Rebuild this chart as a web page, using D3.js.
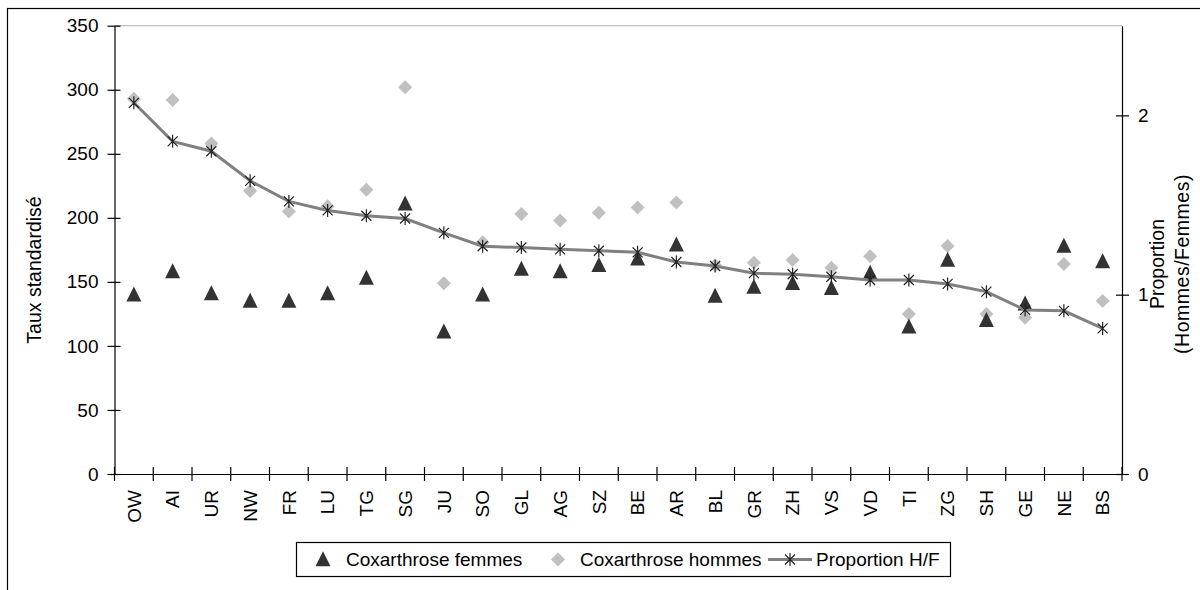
<!DOCTYPE html>
<html>
<head>
<meta charset="utf-8">
<script src="https://cdn.jsdelivr.net/npm/d3@7/dist/d3.min.js"></script>
<style>
  body { margin: 0; background: #fff; }
  svg { display: block; font-family: Arial, "Liberation Sans", sans-serif; }
</style>
</head>
<body>
<svg id="chart" width="1200" height="590"></svg>
<script>
// cantons, sorted by the H/F proportion
const cantons = ['OW','AI','UR','NW','FR','LU','TG','SG','JU','SO','GL','AG','SZ','BE','AR','BL','GR','ZH','VS','VD','TI','ZG','SH','GE','NE','BS'];
const femmes = [140,158,141,135,135,141,153,211,111,140,160,158,163,168,179,139,146,149,145,157,115,167,120,133,178,166];
const hommes = [293,292,258,221,205,209,222,302,149,181,203,198,204,208,212,163,165,167,161,170,125,178,125,122,164,135];
const proportion = [2.07,1.855,1.80,1.635,1.52,1.47,1.44,1.425,1.345,1.27,1.263,1.253,1.245,1.236,1.182,1.16,1.12,1.114,1.10,1.082,1.082,1.06,1.017,0.915,0.91,0.812];
const leftTicks = [0,50,100,150,200,250,300,350];
const rightTicks = [0,1,2];

const svg = d3.select('#chart');
const margin = { top: 25.7, right: 78, bottom: 116, left: 114.5 };
const W = 1200, H = 590;
const innerBottom = H - margin.bottom;   // 474
const innerRight = W - margin.right;     // 1122

const tickFont = 19;
const textFont = 19.5;
const legendFont = 19;

// outer chart frame (runs off the picture on the right and bottom)
svg.append('rect')
  .attr('x', 7.5).attr('y', 8.5)
  .attr('width', 1300).attr('height', 700)
  .attr('fill', 'none').attr('stroke', '#000').attr('stroke-width', 1.2);

// scales
const x = d3.scaleBand().domain(cantons).range([margin.left, innerRight]).padding(0);
const yL = d3.scaleLinear().domain([0, 350]).range([innerBottom, margin.top]);
const yR = d3.scaleLinear().domain([0, 2.5]).range([innerBottom, margin.top]);

// plot area top border
svg.append('line')
  .attr('x1', margin.left).attr('x2', innerRight)
  .attr('y1', margin.top).attr('y2', margin.top)
  .attr('stroke', '#c0c0c0').attr('stroke-width', 1.2);

// left axis
const gL = svg.append('g')
  .attr('transform', `translate(${margin.left},0)`)
  .call(d3.axisLeft(yL).tickValues(leftTicks).tickSize(7).tickPadding(9).tickSizeOuter(0));
gL.selectAll('.tick line').attr('x1', 6);

// right axis
const gR = svg.append('g')
  .attr('transform', `translate(${innerRight},0)`)
  .call(d3.axisRight(yR).tickValues(rightTicks).tickFormat(d3.format('d')).tickSize(7).tickPadding(9).tickSizeOuter(0));
gR.selectAll('.tick line').attr('x1', -6);

// bottom axis: labels at band centres, ticks at band edges
const gB = svg.append('g')
  .attr('transform', `translate(0,${innerBottom})`)
  .call(d3.axisBottom(x).tickSize(0).tickSizeOuter(0));
gB.selectAll('.tick text')
  .attr('text-anchor', 'end')
  .attr('transform', 'translate(0,16) rotate(-90)')
  .attr('x', 0).attr('y', 0).attr('dy', '0.36em');
const edges = cantons.map(c => x(c)).concat([innerRight]);
gB.selectAll('.edge')
  .data(edges)
  .enter().append('line')
  .attr('class', 'edge')
  .attr('x1', d => d).attr('x2', d => d)
  .attr('y1', -7).attr('y2', 7)
  .attr('stroke', '#000');

[gL, gR, gB].forEach(g => {
  g.selectAll('text').attr('font-size', tickFont).attr('fill', '#000')
    .attr('font-family', 'Arial, "Liberation Sans", sans-serif');
  g.selectAll('path, line').attr('stroke', '#000').attr('stroke-width', 1.2);
});

// axis titles
svg.append('text')
  .attr('transform', 'translate(41,270) rotate(-90)')
  .attr('text-anchor', 'middle')
  .attr('font-size', textFont)
  .text('Taux standardisé');

const rt = svg.append('text')
  .attr('transform', 'translate(1164,264) rotate(-90)')
  .attr('text-anchor', 'middle')
  .attr('font-size', textFont);
rt.append('tspan').attr('x', 0).attr('dy', 0).text('Proportion');
rt.append('tspan').attr('x', 0).attr('dy', '1.3em').attr('letter-spacing', 0.5).text('(Hommes/Femmes)');

// marker shapes
const triPath = s => `M0,${-s * 0.55}L${s / 2},${s * 0.45}L${-s / 2},${s * 0.45}Z`;
const diaPath = s => `M0,${-s}L${s},0L0,${s}L${-s},0Z`;
const starPath = s => `M${-s},${-s}L${s},${s}M${-s},${s}L${s},${-s}M0,${-s * 1.3}L0,${s * 1.3}`;

const cx = c => x(c) + x.bandwidth() / 2;

// series: men (diamonds)
svg.append('g').selectAll('path')
  .data(hommes)
  .enter().append('path')
  .attr('d', diaPath(7))
  .attr('transform', (d, i) => `translate(${cx(cantons[i])},${yL(d)})`)
  .attr('fill', '#c0c0c0');

// series: women (triangles)
svg.append('g').selectAll('path')
  .data(femmes)
  .enter().append('path')
  .attr('d', triPath(15))
  .attr('transform', (d, i) => `translate(${cx(cantons[i])},${yL(d)})`)
  .attr('fill', '#333');

// proportion line on the right axis
const line = d3.line()
  .x((d, i) => cx(cantons[i]))
  .y(d => yR(d));
svg.append('path')
  .datum(proportion)
  .attr('d', line)
  .attr('fill', 'none')
  .attr('stroke', '#808080')
  .attr('stroke-width', 3);

svg.append('g').selectAll('path')
  .data(proportion)
  .enter().append('path')
  .attr('d', starPath(5))
  .attr('transform', (d, i) => `translate(${cx(cantons[i])},${yR(d)})`)
  .attr('fill', 'none')
  .attr('stroke', '#222')
  .attr('stroke-width', 1.2);

// legend
const lg = svg.append('g');
lg.append('rect')
  .attr('x', 296.5).attr('y', 542.5)
  .attr('width', 654).attr('height', 34)
  .attr('fill', '#fff').attr('stroke', '#000').attr('stroke-width', 1.2);
const ly = 559.5;
lg.append('path').attr('d', triPath(15)).attr('transform', `translate(323,${ly})`).attr('fill', '#333');
lg.append('text').attr('x', 346).attr('y', ly).attr('dy', '0.36em').attr('font-size', legendFont).text('Coxarthrose femmes');
lg.append('path').attr('d', diaPath(7)).attr('transform', `translate(558,${ly})`).attr('fill', '#c0c0c0');
lg.append('text').attr('x', 580).attr('y', ly).attr('dy', '0.36em').attr('font-size', legendFont).text('Coxarthrose hommes');
lg.append('line').attr('x1', 768).attr('x2', 812).attr('y1', ly).attr('y2', ly).attr('stroke', '#808080').attr('stroke-width', 3);
lg.append('path').attr('d', starPath(5)).attr('transform', `translate(790,${ly})`).attr('fill', 'none').attr('stroke', '#222').attr('stroke-width', 1.2);
lg.append('text').attr('x', 816).attr('y', ly).attr('dy', '0.36em').attr('font-size', legendFont).text('Proportion H/F');
</script>
</body>
</html>
